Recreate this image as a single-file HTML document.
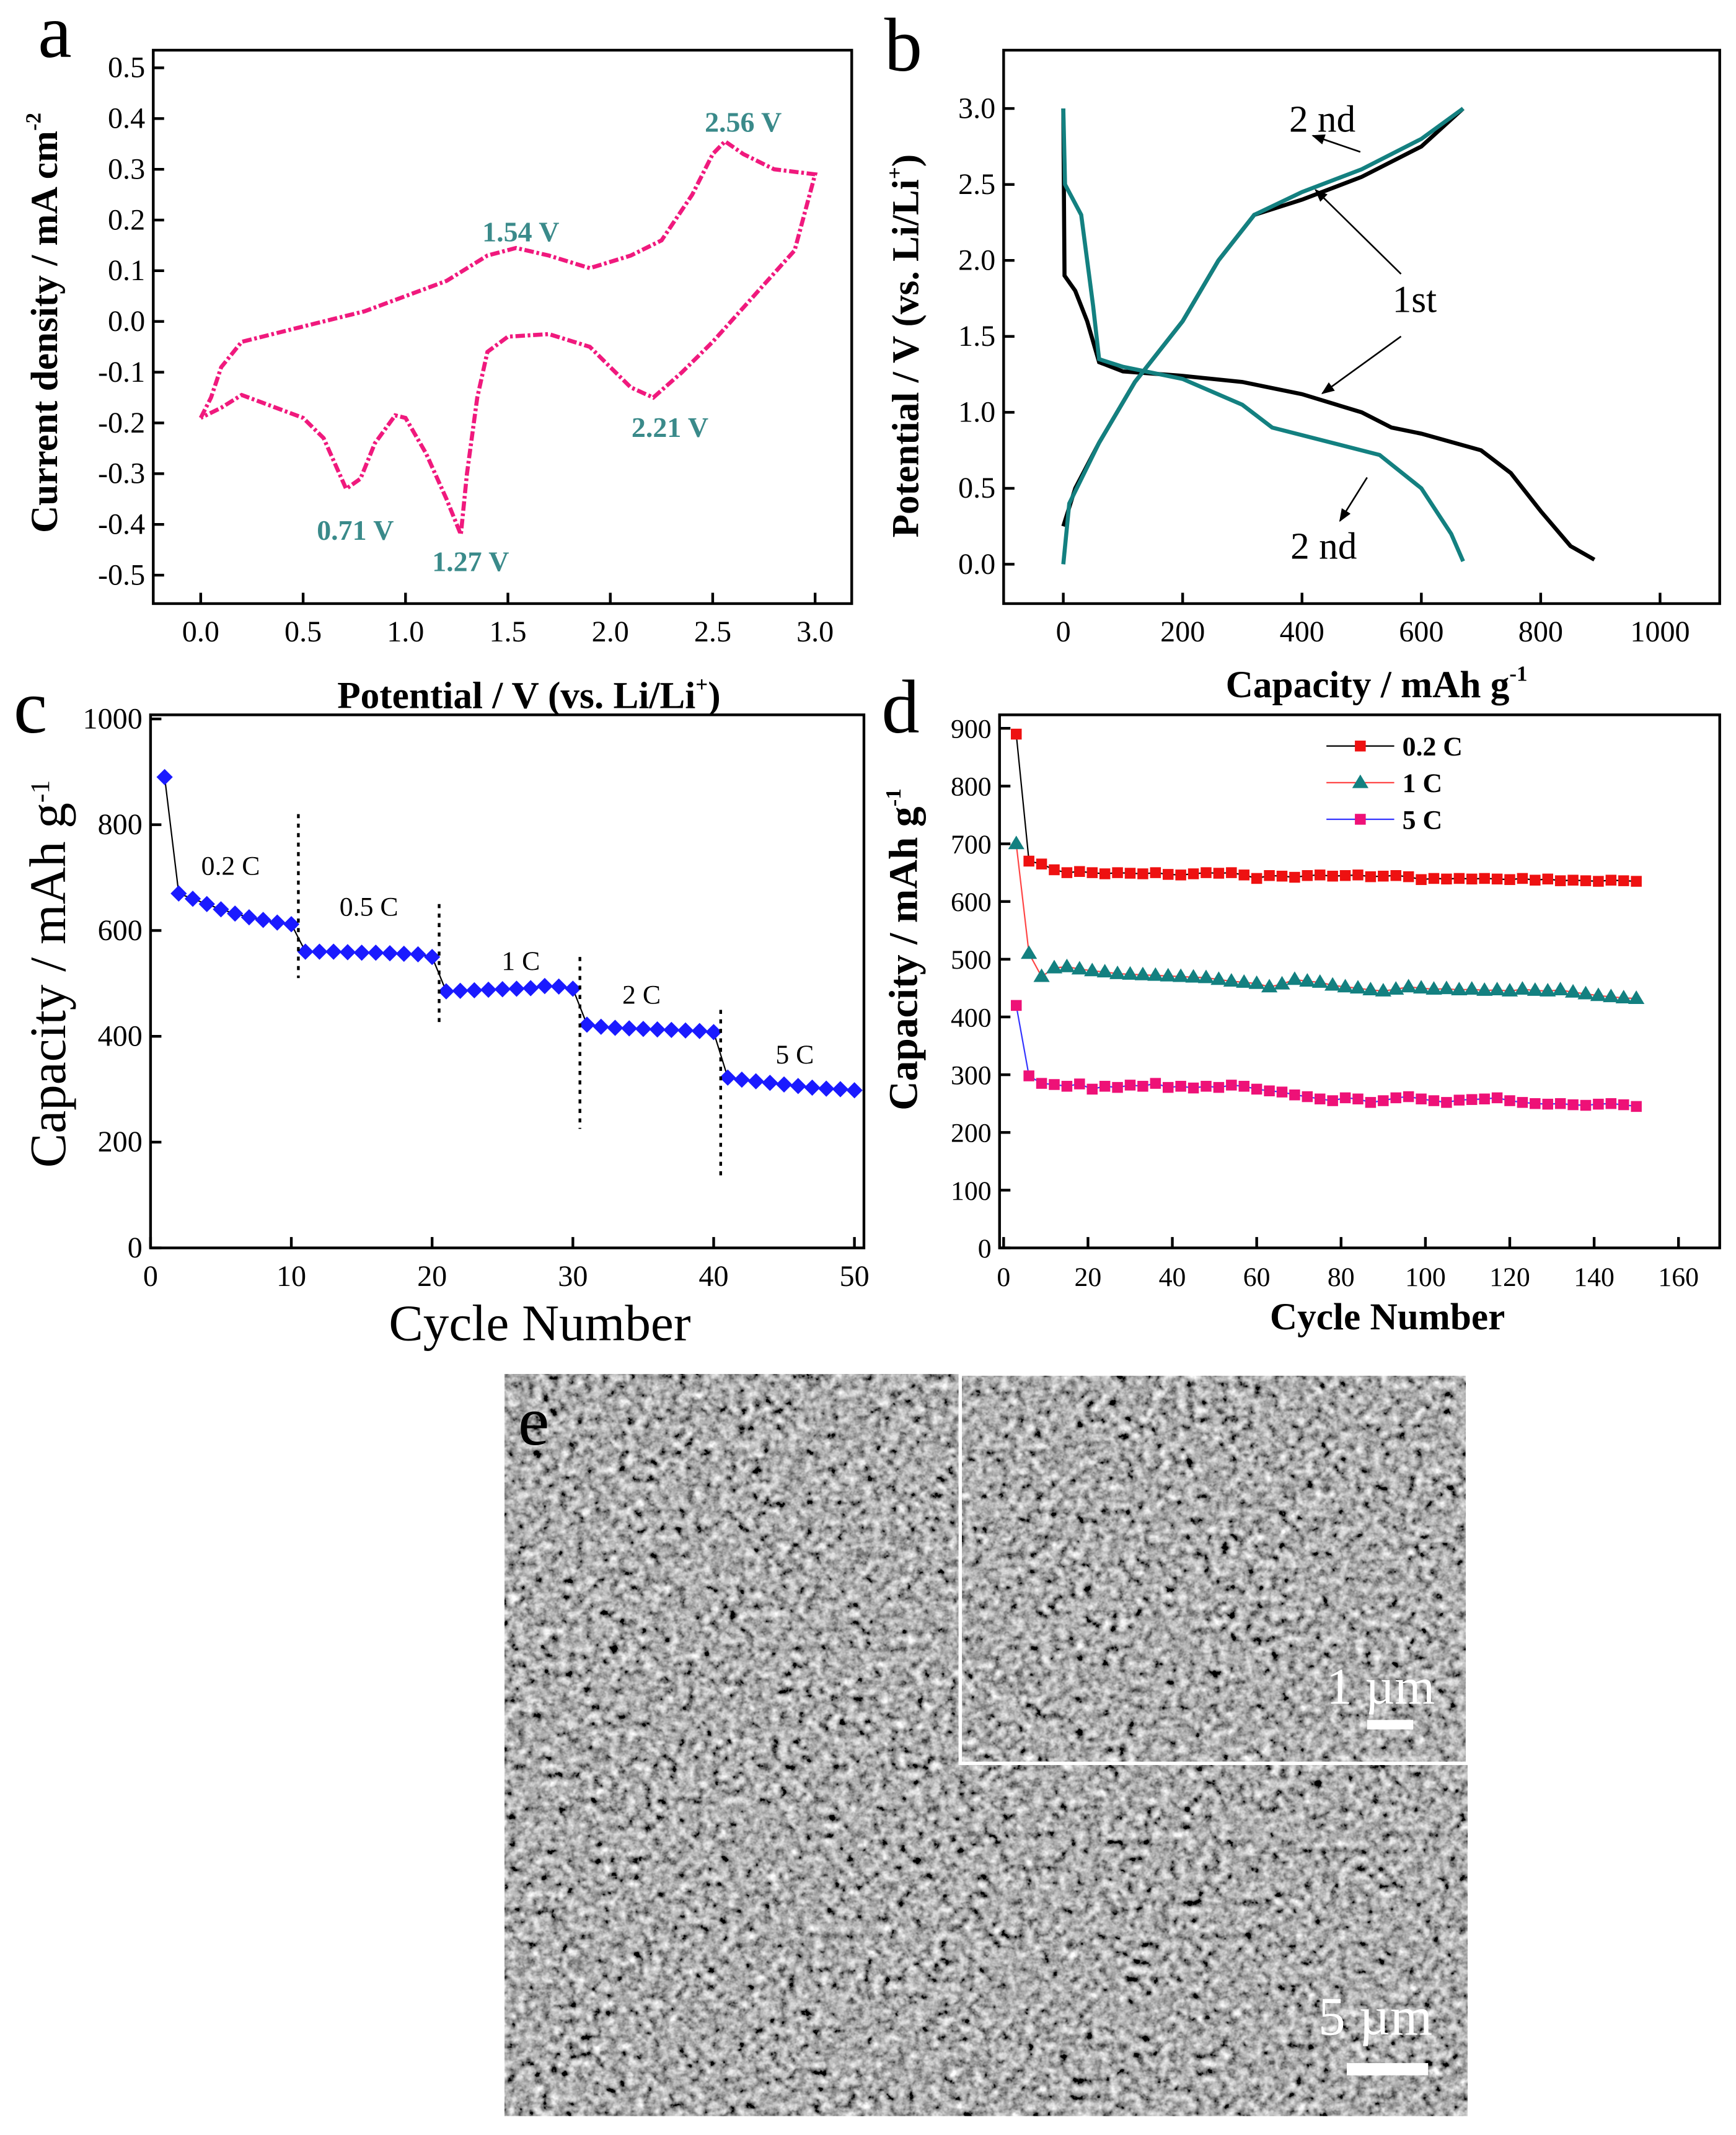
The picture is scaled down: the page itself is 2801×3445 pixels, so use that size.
<!DOCTYPE html>
<html><head><meta charset="utf-8"><style>
html,body{margin:0;padding:0;background:#fff}
svg{display:block}
text{font-family:"Liberation Serif",serif}
</style></head><body>
<svg id="fig" width="2801" height="3445" viewBox="0 0 1280 1574" preserveAspectRatio="none" xmlns="http://www.w3.org/2000/svg">
<defs>
<filter id="sem" x="0" y="0" width="100%" height="100%">
<feTurbulence type="fractalNoise" baseFrequency="0.16" numOctaves="3" seed="4"/>
<feColorMatrix type="matrix" values="0.33 0.33 0.33 0 0  0.33 0.33 0.33 0 0  0.33 0.33 0.33 0 0  0 0 0 0 1"/>
<feComponentTransfer><feFuncR type="linear" slope="2.4" intercept="-0.77"/><feFuncG type="linear" slope="2.4" intercept="-0.77"/><feFuncB type="linear" slope="2.4" intercept="-0.77"/></feComponentTransfer>
</filter>
<marker id="arr" viewBox="0 0 10 10" refX="9" refY="5" markerWidth="8" markerHeight="8" orient="auto"><path d="M0,1 L10,5 L0,9 z" fill="#000"/></marker>
</defs>
<g id="pa"></g>
<g id="pb"></g>
<g id="pc"></g>
<g id="pd"></g>
<g id="pe">
<rect x="372" y="1013" width="710" height="547" fill="#777" filter="url(#sem)"/>
<rect x="708" y="1013" width="374" height="287" fill="#666" filter="url(#sem)"/>
<rect x="708" y="1013" width="374" height="287" fill="none" stroke="#fff" stroke-width="2.5"/>
<text x="382" y="1065" font-size="52" fill="#000">e</text>
<text x="978" y="1256" font-size="38" fill="#fff">1 µm</text>
<rect x="1008" y="1268" width="34" height="7" fill="#fff"/>
<text x="972" y="1500" font-size="40" fill="#fff">5 µm</text>
<rect x="993" y="1521" width="60" height="9" fill="#fff"/>
</g>
</svg>
<script>
const NS="http://www.w3.org/2000/svg";
// Panel a data
const cvV=[0,0.05,0.1,0.2,0.5,0.8,1.0,1.2,1.4,1.54,1.7,1.9,2.1,2.25,2.4,2.5,2.56,2.65,2.8,3.0,2.9,2.7,2.5,2.35,2.21,2.1,2.0,1.9,1.7,1.5,1.4,1.35,1.3,1.27,1.2,1.1,1.0,0.95,0.85,0.78,0.71,0.6,0.5,0.3,0.2,0.1,0];
const cvI=[-0.19,-0.15,-0.09,-0.04,-0.01,0.02,0.05,0.08,0.13,0.145,0.13,0.105,0.13,0.16,0.25,0.33,0.355,0.33,0.30,0.29,0.14,0.05,-0.04,-0.10,-0.15,-0.13,-0.09,-0.05,-0.025,-0.03,-0.06,-0.15,-0.30,-0.42,-0.35,-0.26,-0.19,-0.185,-0.24,-0.31,-0.33,-0.23,-0.19,-0.16,-0.145,-0.17,-0.19];
const aXTicks=["0.0","0.5","1.0","1.5","2.0","2.5","3.0"];
const aYTicks=["-0.5","-0.4","-0.3","-0.2","-0.1","0.0","0.1","0.2","0.3","0.4","0.5"];
// Panel b data
const d1C=[0,2,20,40,60,100,200,300,400,500,550,600,700,750,800,850,890];
const d1V=[3.0,1.9,1.8,1.6,1.33,1.27,1.24,1.2,1.12,1.0,0.9,0.86,0.75,0.6,0.35,0.12,0.03];
const c1C=[0,20,60,120,200,260,320,400,500,600,670];
const c1V=[0.25,0.5,0.8,1.2,1.6,2.0,2.3,2.4,2.55,2.75,3.0];
const d2C=[0,3,30,50,60,100,200,300,350,450,530,600,650,670];
const d2V=[3.0,2.5,2.3,1.7,1.35,1.3,1.22,1.05,0.9,0.8,0.72,0.5,0.2,0.02];
const c2C=[0,10,60,120,200,260,320,400,500,600,670];
const c2V=[0.0,0.4,0.8,1.2,1.6,2.0,2.3,2.45,2.6,2.8,3.0];
const bXTicks=["0","200","400","600","800","1000"];
const bYTicks=["0.0","0.5","1.0","1.5","2.0","2.5","3.0"];
// Panel c data
const cCap=[890,670,660,650,640,632,625,620,615,612,560,560,560,559,558,558,557,556,555,550,485,486,487,488,489,490,491,495,494,490,422,418,416,415,414,413,412,411,410,408,322,318,315,312,309,306,303,301,300,298];
const cXTicks=["0","10","20","30","40","50"];
const cYTicks=["0","200","400","600","800","1000"];
const cLabels=["0.2 C","0.5 C","1 C","2 C","5 C"];
// Panel d data
const dC02=[890,670,665,655,650,652,650,648,650,649,648,650,647,646,648,650,649,650,646,640,645,644,642,645,646,644,645,646,643,644,645,643,638,640,639,640,639,640,639,638,640,637,639,636,637,636,635,637,636,635];
const dC1=[700,510,470,485,487,483,480,478,475,474,473,472,471,470,469,468,465,462,460,458,452,457,465,462,460,455,452,450,447,445,448,452,450,448,449,447,448,446,447,445,448,446,445,447,443,440,437,435,433,432];
const dC5=[420,298,285,283,280,284,275,280,278,282,280,285,278,280,277,280,278,282,280,275,272,270,265,262,258,255,260,258,252,255,260,262,258,255,252,256,257,258,260,255,252,250,249,250,248,247,249,250,248,245];
const dXTicks=["0","20","40","60","80","100","120","140","160"];
const dYTicks=["0","100","200","300","400","500","600","700","800","900"];

function el(t,a,p,name){const e=document.createElementNS(NS,t);for(const k in a)e.setAttribute(k,a[k]);p.appendChild(e);


return e;}
function txt(s,a,p,name){const e=el("text",a,p,name);e.textContent=s;return e;}
// title with superscript and optional trailing text
function supTitle(g,main,sup,tail,attrs,supSize,name){
 const t=el("text",attrs,g,name);
 t.appendChild(document.createTextNode(main));
 const s=document.createElementNS(NS,"tspan");s.setAttribute("font-size",supSize);s.setAttribute("dy",-12);s.textContent=sup;t.appendChild(s);
 if(tail){const r=document.createElementNS(NS,"tspan");r.setAttribute("dy",12);r.textContent=tail;t.appendChild(r);}
 return t;}
function axes(g,x0,y0,x1,y1,xs,ys,xTicks,xVals,yTicks,yVals,fs,bold){
 el("rect",{x:x0,y:y0,width:x1-x0,height:y1-y0,fill:"none",stroke:"#000","stroke-width":2},g,"plot-frame");
 xTicks.forEach((t,i)=>{const x=xs(xVals[i]);el("line",{x1:x,y1:y1,x2:x,y2:y1-8,stroke:"#000","stroke-width":2},g,"x-tick");
  txt(t,{x:x,y:y1+28,"font-size":fs,"text-anchor":"middle","font-weight":bold?"bold":"normal"},g,"x-tick-label");});
 yTicks.forEach((t,i)=>{const y=ys(yVals[i]);el("line",{x1:x0,y1:y,x2:x0+8,y2:y,stroke:"#000","stroke-width":2},g,"y-tick");
  txt(t,{x:x0-6,y:y+7,"font-size":fs,"text-anchor":"end","font-weight":bold?"bold":"normal"},g,"y-tick-label");});
}
function poly(g,xs,ys,X,Y,attrs,name){const pts=X.map((v,i)=>xs(v).toFixed(1)+","+ys(Y[i]).toFixed(1)).join(" ");
 return el("polyline",Object.assign({points:pts,fill:"none"},attrs),g,name);}

// Panel a
(function(){const g=document.getElementById("pa");
 const xs=v=>148+v*151, ys=v=>237-v*374;
 axes(g,113,37,628,445,xs,ys,aXTicks,aXTicks.map(Number),aYTicks,aYTicks.map(Number),22,false);
 poly(g,xs,ys,cvV,cvI,{stroke:"#f0197d","stroke-width":3,"stroke-dasharray":"7 2 2 2"},"cv-curve");
 const lab=[["2.56 V",548,97],["1.54 V",384,178],["2.21 V",494,322],["0.71 V",262,398],["1.27 V",347,421]];
 lab.forEach(l=>txt(l[0],{x:l[1],y:l[2],"font-size":21,"font-weight":"bold",fill:"#3a8a8a","text-anchor":"middle"},g,"peak-label"));
 txt("a",{x:28,y:42,"font-size":56},g,"label-a");
 supTitle(g,"Current density / mA cm","-2","",{x:0,y:0,"font-size":28,"font-weight":"bold","text-anchor":"middle",transform:"translate(42,238) rotate(-90)"},16,"y-axis-title");
 supTitle(g,"Potential / V (vs. Li/Li","+",")",{x:390,y:522,"font-size":28,"font-weight":"bold","text-anchor":"middle"},16,"x-axis-title");
})();
// Panel b
(function(){const g=document.getElementById("pb");
 const xs=v=>784+v*0.44, ys=v=>416-v*112;
 axes(g,740,37,1268,445,xs,ys,bXTicks,bXTicks.map(Number),bYTicks,bYTicks.map(Number),22,false);
 poly(g,xs,ys,d1C,d1V,{stroke:"#000","stroke-width":3},"discharge-1st");
 poly(g,xs,ys,c1C,c1V,{stroke:"#000","stroke-width":3},"charge-1st");
 poly(g,xs,ys,d2C,d2V,{stroke:"#138080","stroke-width":3},"discharge-2nd");
 poly(g,xs,ys,c2C,c2V,{stroke:"#138080","stroke-width":3},"charge-2nd");
 txt("2 nd",{x:975,y:97,"font-size":28,"text-anchor":"middle"},g,"label-2nd-top");
 txt("1st",{x:1043,y:230,"font-size":28,"text-anchor":"middle"},g,"label-1st");
 txt("2 nd",{x:976,y:412,"font-size":28,"text-anchor":"middle"},g,"label-2nd-bottom");
 [[1003,112,968,100],[1033,202,970,140],[1033,248,975,290],[1008,352,988,384]].forEach(a=>el("line",{x1:a[0],y1:a[1],x2:a[2],y2:a[3],stroke:"#000","stroke-width":1.2,"marker-end":"url(#arr)"},g,"annotation-arrow"));
 txt("b",{x:652,y:52,"font-size":56},g,"label-b");
 supTitle(g,"Potential  / V (vs. Li/Li","+",")",{x:0,y:0,"font-size":28,"font-weight":"bold","text-anchor":"middle",transform:"translate(677,255) rotate(-90)"},16,"y-axis-title");
 supTitle(g,"Capacity / mAh g","-1","",{x:1015,y:514,"font-size":28,"font-weight":"bold","text-anchor":"middle"},16,"x-axis-title");
})();
// Panel c
(function(){const g=document.getElementById("pc");
 const xs=v=>111+v*10.38, ys=v=>920-v*0.39;
 axes(g,111,527,637,920,xs,ys,cXTicks,cXTicks.map(Number),cYTicks,cYTicks.map(Number),22,false);
 const cyc=cCap.map((v,i)=>i+1);
 poly(g,xs,ys,cyc,cCap,{stroke:"#000","stroke-width":1},"rate-line");
 cCap.forEach((v,i)=>{const x=xs(i+1),y=ys(v);el("polygon",{points:`${x},${y-6} ${x+6},${y} ${x},${y+6} ${x-6},${y}`,fill:"#1a1aff"},g,"rate-point");});
 [[10.5,820,510],[20.5,650,420],[30.5,550,225],[40.5,450,130]].forEach(d=>el("line",{x1:xs(d[0]),x2:xs(d[0]),y1:ys(d[1]),y2:ys(d[2]),stroke:"#000","stroke-width":2,"stroke-dasharray":"3 4"},g,"divider"));
 [[170,645],[272,675],[384,715],[473,740],[586,784]].forEach((p,i)=>txt(cLabels[i],{x:p[0],y:p[1],"font-size":20,"text-anchor":"middle"},g,"rate-label"));
 txt("c",{x:10,y:540,"font-size":56},g,"label-c");
 supTitle(g,"Capacity / mAh g","-1","",{x:0,y:0,"font-size":38,"text-anchor":"middle",transform:"translate(48,718) rotate(-90)"},20,"y-axis-title");
 txt("Cycle Number",{x:398,y:988,"font-size":38,"text-anchor":"middle"},g,"x-axis-title");
})();
// Panel d
(function(){const g=document.getElementById("pd");
 const xs=v=>740+v*3.11, ys=v=>920-v*0.4256;
 axes(g,737,527,1268,920,xs,ys,dXTicks,dXTicks.map(Number),dYTicks,dYTicks.map(Number),20,false);
 const cyc=dC02.map((v,i)=>3+i*3);
 const series=[[dC02,"#ee1111","square","#000","series-0.2c"],[dC1,"#138080","tri","#ff4444","series-1c"],[dC5,"#ee1177","square","#3333ff","series-5c"]];
 series.forEach(s=>{
  poly(g,xs,ys,cyc,s[0],{stroke:s[3],"stroke-width":1},s[4]+"-line");
  s[0].forEach((v,i)=>{const x=xs(cyc[i]),y=ys(v);
   if(s[2]==="square")el("rect",{x:x-4,y:y-4,width:8,height:8,fill:s[1]},g,s[4]+"-point");
   else el("polygon",{points:`${x},${y-6} ${x+6},${y+4} ${x-6},${y+4}`,fill:s[1]},g,s[4]+"-point");});
 });
 const leg=[["0.2 C","#ee1111","square","#000",550],["1 C","#138080","tri","#ff4444",577],["5 C","#ee1177","square","#3333ff",604]];
 leg.forEach(l=>{el("line",{x1:978,x2:1028,y1:l[4],y2:l[4],stroke:l[3],"stroke-width":1},g,"legend-line");
  if(l[2]==="square")el("rect",{x:999,y:l[4]-4,width:8,height:8,fill:l[1]},g,"legend-marker");
  else el("polygon",{points:`1003,${l[4]-6} 1009,${l[4]+4} 997,${l[4]+4}`,fill:l[1]},g,"legend-marker");
  txt(l[0],{x:1034,y:l[4]+7,"font-size":20,"font-weight":"bold"},g,"legend-entry");});
 txt("d",{x:650,y:540,"font-size":56},g,"label-d");
 supTitle(g,"Capacity / mAh g","-1","",{x:0,y:0,"font-size":30,"font-weight":"bold","text-anchor":"middle",transform:"translate(676,700) rotate(-90)"},16,"y-axis-title");
 txt("Cycle Number",{x:1023,y:980,"font-size":28,"font-weight":"bold","text-anchor":"middle"},g,"x-axis-title");
})();
</script>
</body></html>
